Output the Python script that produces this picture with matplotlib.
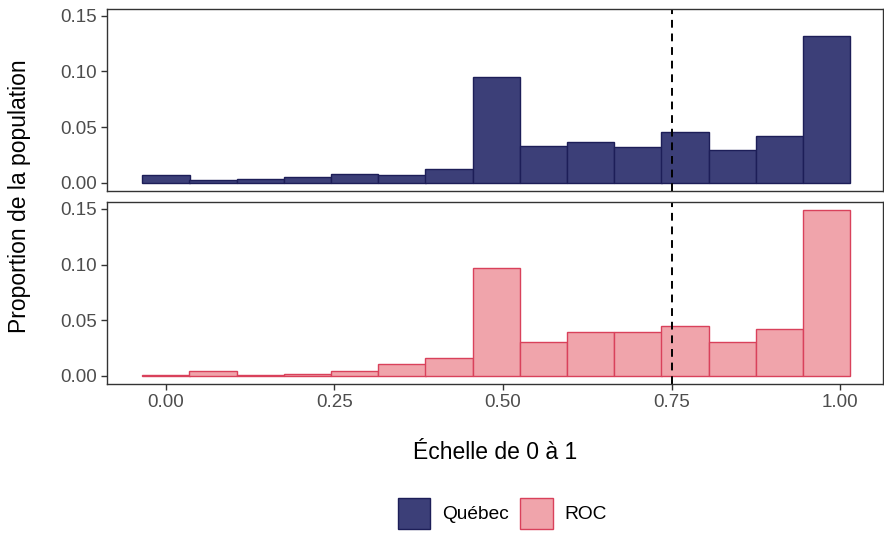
import numpy as np
from matplotlib import pyplot as plt

plt.rcParams['font.family'] = ['Liberation Sans', 'DejaVu Sans']

# bins (centre of each class on the 0-1 scale)
bin_centers = [0.00, 0.07, 0.14, 0.21, 0.28, 0.35, 0.42, 0.49,
               0.56, 0.63, 0.70, 0.77, 0.84, 0.91, 0.98]
bin_width = 0.0702

quebec = [0.0072, 0.0021, 0.0030, 0.0051, 0.0081, 0.0069, 0.0123, 0.0952,
          0.0332, 0.0363, 0.0323, 0.0455, 0.0294, 0.0422, 0.1320]
roc = [0.0010, 0.0042, 0.0010, 0.0018, 0.0042, 0.0108, 0.0165, 0.0968,
       0.0309, 0.0393, 0.0393, 0.0447, 0.0306, 0.0420, 0.1493]

x_ticks = [0.00, 0.25, 0.50, 0.75, 1.00]
x_ticklabels = ["0.00", "0.25", "0.50", "0.75", "1.00"]
y_ticks = [0.00, 0.05, 0.10, 0.15]
y_ticklabels = ["0.00", "0.05", "0.10", "0.15"]
cutoff = 0.75

series = [("Québec", quebec, "#3c3f78", "#1d1e58"),
          ("ROC", roc, "#f0a4ab", "#d9415b")]

fig = plt.figure(figsize=(8.84, 5.46), dpi=100)
ax_top = fig.add_axes([0.121, 0.651, 0.878, 0.3325])
ax_bot = fig.add_axes([0.121, 0.2967, 0.878, 0.3333])

handles = []
for ax, (name, vals, fill, edge) in zip([ax_top, ax_bot], series):
    bars = ax.bar(bin_centers, vals, width=bin_width, color=fill,
                  edgecolor=edge, linewidth=1.0, label=name)
    handles.append(bars)
    ax.axvline(cutoff, color="black", linestyle=(0, (4, 3)), linewidth=1.4)
    ax.set_xlim(-0.0874, 1.0637)
    ax.set_ylim(-0.0072, 0.1562)
    ax.set_yticks(y_ticks)
    ax.set_yticklabels(y_ticklabels)
    ax.set_xticks(x_ticks)
    ax.tick_params(axis="both", colors="#333333", labelcolor="#4d4d4d",
                   labelsize=13.5, length=4, width=1)
    for sp in ax.spines.values():
        sp.set_color("#333333")
        sp.set_linewidth(1.0)

ax_top.tick_params(axis="x", bottom=False, labelbottom=False)
ax_bot.set_xticklabels(x_ticklabels)

fig.text(0.022, 0.64, "Proportion de la population", rotation=90,
         ha="center", va="center", fontsize=16.5)
fig.text(0.56, 0.172, "Échelle de 0 à 1", ha="center", va="center", fontsize=16.5)

fig.legend(handles, ["Québec", "ROC"], loc="center", bbox_to_anchor=(0.568, 0.06),
           ncol=2, frameon=False, fontsize=13.8, handlelength=1.7,
           handleheight=2.1, handletextpad=0.6, columnspacing=0.6)

plt.savefig("out.png", dpi=100)
